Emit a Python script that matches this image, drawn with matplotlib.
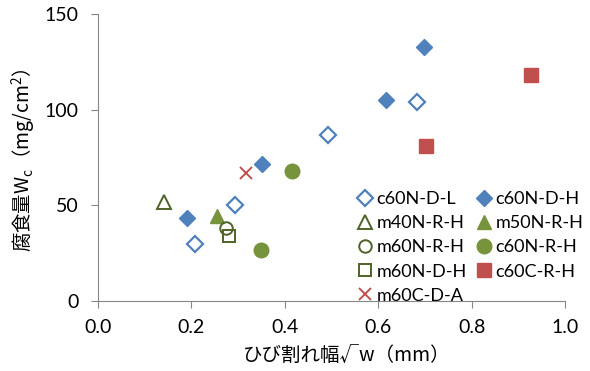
import matplotlib
matplotlib.use('Agg')
import matplotlib.pyplot as plt

plt.rcParams['font.family'] = ['Lato', 'Noto Sans CJK JP', 'DejaVu Sans']

BLUE = '#4F81BD'
GREEN = '#77933C'
DKGREEN = '#4F6228'
RED = '#C0504D'

# series data (crack width sqrt(w) [mm], corrosion Wc [mg/cm2])
c60N_D_L_x = [0.208, 0.293, 0.493, 0.683]
c60N_D_L_y = [30, 50, 87, 104]
c60N_D_H_x = [0.190, 0.351, 0.616, 0.698]
c60N_D_H_y = [43.5, 71.5, 105, 133]
m40N_R_H_x = [0.141]
m40N_R_H_y = [51.5]
m50N_R_H_x = [0.254]
m50N_R_H_y = [44.5]
m60N_R_H_x = [0.275]
m60N_R_H_y = [38]
c60N_R_H_x = [0.350, 0.415]
c60N_R_H_y = [26.5, 68]
m60N_D_H_x = [0.281]
m60N_D_H_y = [34]
c60C_R_H_x = [0.702, 0.927]
c60C_R_H_y = [81, 118]
m60C_D_A_x = [0.317]
m60C_D_A_y = [67]

fig = plt.figure(figsize=(5.9, 3.71), dpi=100)
ax = fig.add_axes([0.166, 0.189, 0.792, 0.773])

h = {}
h['c60N-D-L'], = ax.plot(c60N_D_L_x, c60N_D_L_y, ls='none', marker='D', ms=8.5, mfc='white', mec=BLUE, mew=1.6)
h['c60N-D-H'], = ax.plot(c60N_D_H_x, c60N_D_H_y, ls='none', marker='D', ms=8.5, mfc=BLUE, mec=BLUE, mew=1.0)
h['m40N-R-H'], = ax.plot(m40N_R_H_x, m40N_R_H_y, ls='none', marker='^', ms=9.5, mfc='white', mec=DKGREEN, mew=1.4)
h['m50N-R-H'], = ax.plot(m50N_R_H_x, m50N_R_H_y, ls='none', marker='^', ms=10, mfc=GREEN, mec=GREEN, mew=1.0)
h['m60N-R-H'], = ax.plot(m60N_R_H_x, m60N_R_H_y, ls='none', marker='o', ms=9, mfc='none', mec=DKGREEN, mew=1.4)
h['c60N-R-H'], = ax.plot(c60N_R_H_x, c60N_R_H_y, ls='none', marker='o', ms=10.5, mfc=GREEN, mec=GREEN, mew=1.0)
h['m60N-D-H'], = ax.plot(m60N_D_H_x, m60N_D_H_y, ls='none', marker='s', ms=9, mfc='none', mec=DKGREEN, mew=1.4)
h['c60C-R-H'], = ax.plot(c60C_R_H_x, c60C_R_H_y, ls='none', marker='s', ms=10.5, mfc=RED, mec=RED, mew=1.0)
h['m60C-D-A'], = ax.plot(m60C_D_A_x, m60C_D_A_y, ls='none', marker='x', ms=9, mec=RED, mew=1.4)

ax.set_xlim(0, 1.0)
ax.set_ylim(0, 150)
ax.set_xticks([0, 0.2, 0.4, 0.6, 0.8, 1.0])
ax.set_xticklabels(['0.0', '0.2', '0.4', '0.6', '0.8', '1.0'])
ax.set_yticks([0, 50, 100, 150])

for s in ['top', 'right']:
    ax.spines[s].set_visible(False)
for s in ['left', 'bottom']:
    ax.spines[s].set_color('#868686')
ax.tick_params(direction='out', length=5, color='#868686', labelsize=14, labelcolor='black')
ax.tick_params(axis='x', pad=8)
ax.tick_params(axis='y', pad=9)

ax.set_xlabel('ひび割れ幅√w（mm）', fontsize=14, family=['Noto Sans CJK JP'])
ax.set_ylabel('腐食量W$_\\mathregular{c}$（mg/cm$^\\mathregular{2}$）', fontsize=14,
              family=['Noto Sans CJK JP'])
ax.xaxis.set_label_coords(0.533, -0.155)
ax.yaxis.set_label_coords(-0.128, 0.49)

# legend is filled row by row in the reference
order = ['c60N-D-L', 'm40N-R-H', 'm60N-R-H', 'm60N-D-H', 'm60C-D-A',
         'c60N-D-H', 'm50N-R-H', 'c60N-R-H', 'c60C-R-H']
ax.legend([h[k] for k in order], order, ncol=2, frameon=False, loc='lower left',
          bbox_to_anchor=(0.53, -0.035), fontsize=13, handletextpad=0.0,
          columnspacing=0.3, labelspacing=0.45, handlelength=1.3, borderaxespad=0.0)

fig.savefig('out.png', dpi=100)
